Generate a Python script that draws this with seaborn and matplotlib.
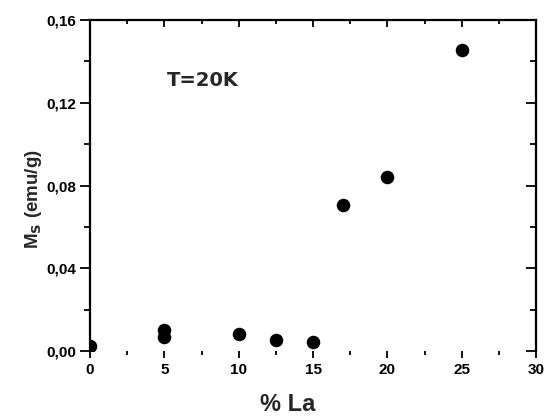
import matplotlib
matplotlib.use("Agg")
import matplotlib.pyplot as plt
import seaborn as sns
import pandas as pd
from matplotlib.ticker import MultipleLocator, FuncFormatter

la_pct = [0, 5, 5, 10, 12.5, 15, 17, 20, 25]
ms_emu_g = [0.0022, 0.0102, 0.0068, 0.0084, 0.0055, 0.0042, 0.0705, 0.0843, 0.1455]
x_ticks = [0, 5, 10, 15, 20, 25, 30]
y_ticks = [0.00, 0.04, 0.08, 0.12, 0.16]

df = pd.DataFrame({"La": la_pct, "Ms": ms_emu_g})

sns.set_theme(style="ticks")
plt.rcParams['font.family'] = ['Liberation Sans', 'DejaVu Sans']

W, H = 544, 419
fig = plt.figure(figsize=(W / 100, H / 100), dpi=100)
ax = fig.add_axes([90 / W, 1 - 351 / H, 446 / W, 331 / H])

sns.scatterplot(data=df, x="La", y="Ms", ax=ax, color="black", s=95,
                edgecolor="black", linewidth=0, legend=False)

ax.set_xlim(0, 30)
ax.set_ylim(0, 0.16)
ax.set_xticks(x_ticks)
ax.set_yticks(y_ticks)
ax.xaxis.set_minor_locator(MultipleLocator(2.5))
ax.yaxis.set_minor_locator(MultipleLocator(0.02))
ax.yaxis.set_major_formatter(FuncFormatter(lambda v, p: f"{v:.2f}".replace(".", ",")))
ax.xaxis.set_major_formatter(FuncFormatter(lambda v, p: f"{v:g}"))

for side in ["left", "right", "top"]:
    ax.spines[side].set_linewidth(1.6)
    ax.spines[side].set_color("black")
ax.spines["bottom"].set_visible(False)

ax.tick_params(axis="both", which="both", colors="black", labelsize=11)
ax.tick_params(axis="y", which="major", direction="out", length=7, width=1.3,
               right=True, labelright=False, pad=3)
ax.tick_params(axis="y", which="minor", direction="out", length=4, width=1.3, right=True)
ax.tick_params(axis="x", which="major", direction="out", length=5, width=1.3,
               top=True, labeltop=False, pad=4)
ax.tick_params(axis="x", which="minor", direction="out", length=3, width=1.3, top=True)
for lbl in ax.get_xticklabels() + ax.get_yticklabels():
    lbl.set_fontweight("bold")

# top and right ticks point inward
for t in ax.xaxis.get_major_ticks() + ax.xaxis.get_minor_ticks():
    t.tick2line.set_marker(3)
for t in ax.yaxis.get_major_ticks() + ax.yaxis.get_minor_ticks():
    t.tick2line.set_marker(0)

ax.set_xlabel("")
ax.set_ylabel("")
fig.text(288 / W, 1 - 404 / H, "% La", fontsize=17, fontweight="bold",
         ha="center", va="center")
fig.text(34 / W, 1 - 199 / H, r"M$_\mathbf{S}$ (emu/g)", fontsize=13.5,
         fontweight="bold", rotation=90, ha="center", va="center")

fig.text(167 / W, 1 - 80 / H, "T=20K", fontsize=14, fontweight="bold",
         family=["DejaVu Sans"], ha="left", va="center")

fig.savefig("out.png", dpi=100)
